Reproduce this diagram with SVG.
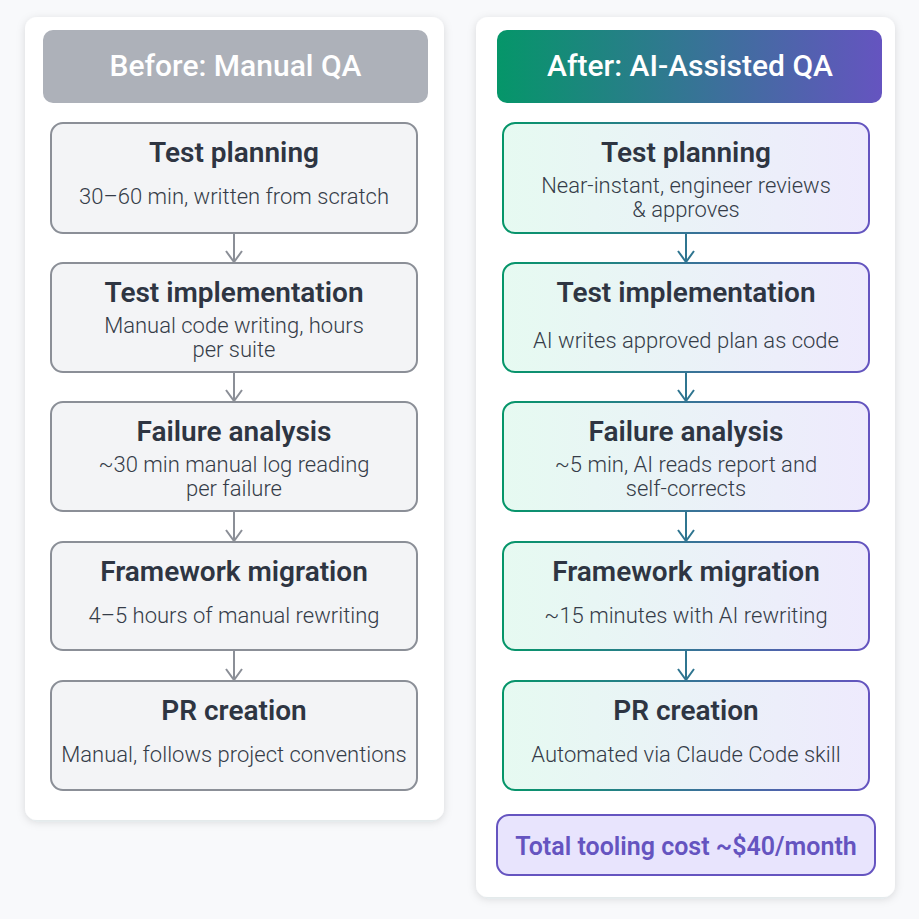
<svg xmlns="http://www.w3.org/2000/svg" width="919" height="919" viewBox="0 0 919 919">
<defs>
<style>
.panel{fill:#ffffff;filter:url(#sh)}
.hdr{font-family:Roboto,"Liberation Sans",sans-serif;font-size:30px;font-weight:500;fill:#ffffff;text-anchor:middle}
.nodeL{fill:#f3f4f6;stroke:#8b8f97;stroke-width:2}
.nodeR{fill:url(#gFill);stroke:url(#gStroke);stroke-width:2}
.t{font-family:Roboto,"Liberation Sans",sans-serif;font-size:28px;font-weight:600;fill:#2e3542;text-anchor:middle}
.s{font-family:Roboto,"Liberation Sans",sans-serif;font-size:22px;font-weight:300;fill:#353c48;text-anchor:middle}
.aL{stroke:#8b8f97;stroke-width:2;fill:none}
.aR{stroke:#2f7590;stroke-width:2;fill:none}
.cost{font-family:Roboto,"Liberation Sans",sans-serif;font-size:25px;font-weight:600;fill:#6554c0;text-anchor:middle}
</style>
<filter id="sh" x="-10%" y="-10%" width="120%" height="120%">
<feDropShadow dx="0" dy="2" stdDeviation="4" flood-color="#1f2937" flood-opacity="0.13"/>
</filter>
<linearGradient id="gHdr" x1="0" y1="0" x2="1" y2="0">
<stop offset="0" stop-color="#059669"/>
<stop offset="1" stop-color="#6554c0"/>
</linearGradient>
<linearGradient id="gStroke" x1="0" y1="0" x2="1" y2="0">
<stop offset="0" stop-color="#059669"/>
<stop offset="1" stop-color="#6554c0"/>
</linearGradient>
<linearGradient id="gFill" x1="0" y1="0" x2="1" y2="0">
<stop offset="0" stop-color="#e6faf1"/>
<stop offset="1" stop-color="#eeeafd"/>
</linearGradient>
</defs>
<rect x="0" y="0" width="919" height="919" fill="#f8f9fb"/>

<g id="panel-before">
<rect class="panel" x="25" y="17" width="419" height="803" rx="12"/>
<rect x="43" y="30" width="385" height="73" rx="10" fill="#adb1b9"/>
<text class="hdr" x="235.5" y="75.5">Before: Manual QA</text>
</g>
<g id="panel-after">
<rect class="panel" x="476" y="17" width="419" height="880" rx="12"/>
<rect x="497" y="30" width="385" height="73" rx="10" fill="url(#gHdr)"/>
<text class="hdr" x="690" y="75.5">After: AI-Assisted QA</text>
</g>

<g id="connectors">
<path class="aL" d="M234,233V262M226,251L234,262L242,251"/>
<path class="aL" d="M234,372V401M226,390L234,401L242,390"/>
<path class="aL" d="M234,511V541M226,530L234,541L242,530"/>
<path class="aL" d="M234,650V680M226,669L234,680L242,669"/>
<path class="aR" d="M686,233V262M678,251L686,262L694,251"/>
<path class="aR" d="M686,372V401M678,390L686,401L694,390"/>
<path class="aR" d="M686,511V541M678,530L686,541L694,530"/>
<path class="aR" d="M686,650V680M678,669L686,680L694,669"/>
</g>

<g id="before-planning">
<rect class="nodeL" x="51" y="123" width="366" height="110" rx="12"/>
<text class="t" x="234" y="162">Test planning</text>
<text class="s" x="234" y="204">30–60 min, written from scratch</text>
</g>
<g id="before-implementation">
<rect class="nodeL" x="51" y="263" width="366" height="109" rx="12"/>
<text class="t" x="234" y="302">Test implementation</text>
<text class="s" x="234" y="333">Manual code writing, hours</text>
<text class="s" x="234" y="357">per suite</text>
</g>
<g id="before-failure">
<rect class="nodeL" x="51" y="402" width="366" height="109" rx="12"/>
<text class="t" x="234" y="441">Failure analysis</text>
<text class="s" x="234" y="472">~30 min manual log reading</text>
<text class="s" x="234" y="496">per failure</text>
</g>
<g id="before-migration">
<rect class="nodeL" x="51" y="542" width="366" height="108" rx="12"/>
<text class="t" x="234" y="581">Framework migration</text>
<text class="s" x="234" y="623">4–5 hours of manual rewriting</text>
</g>
<g id="before-pr">
<rect class="nodeL" x="51" y="681" width="366" height="109" rx="12"/>
<text class="t" x="234" y="720">PR creation</text>
<text class="s" x="234" y="762">Manual, follows project conventions</text>
</g>

<g id="after-planning">
<rect class="nodeR" x="503" y="123" width="366" height="110" rx="12"/>
<text class="t" x="686" y="162">Test planning</text>
<text class="s" x="686" y="193">Near-instant, engineer reviews</text>
<text class="s" x="686" y="217">&amp; approves</text>
</g>
<g id="after-implementation">
<rect class="nodeR" x="503" y="263" width="366" height="109" rx="12"/>
<text class="t" x="686" y="302">Test implementation</text>
<text class="s" x="686" y="348">AI writes approved plan as code</text>
</g>
<g id="after-failure">
<rect class="nodeR" x="503" y="402" width="366" height="109" rx="12"/>
<text class="t" x="686" y="441">Failure analysis</text>
<text class="s" x="686" y="472">~5 min, AI reads report and</text>
<text class="s" x="686" y="496">self-corrects</text>
</g>
<g id="after-migration">
<rect class="nodeR" x="503" y="542" width="366" height="108" rx="12"/>
<text class="t" x="686" y="581">Framework migration</text>
<text class="s" x="686" y="623">~15 minutes with AI rewriting</text>
</g>
<g id="after-pr">
<rect class="nodeR" x="503" y="681" width="366" height="109" rx="12"/>
<text class="t" x="686" y="720">PR creation</text>
<text class="s" x="686" y="762">Automated via Claude Code skill</text>
</g>
<g id="cost">
<rect x="497" y="815" width="378" height="60" rx="12" fill="#e8e4fd" stroke="#6554c0" stroke-width="2"/>
<text class="cost" x="686" y="855">Total tooling cost ~$40/month</text>
</g>
</svg>
